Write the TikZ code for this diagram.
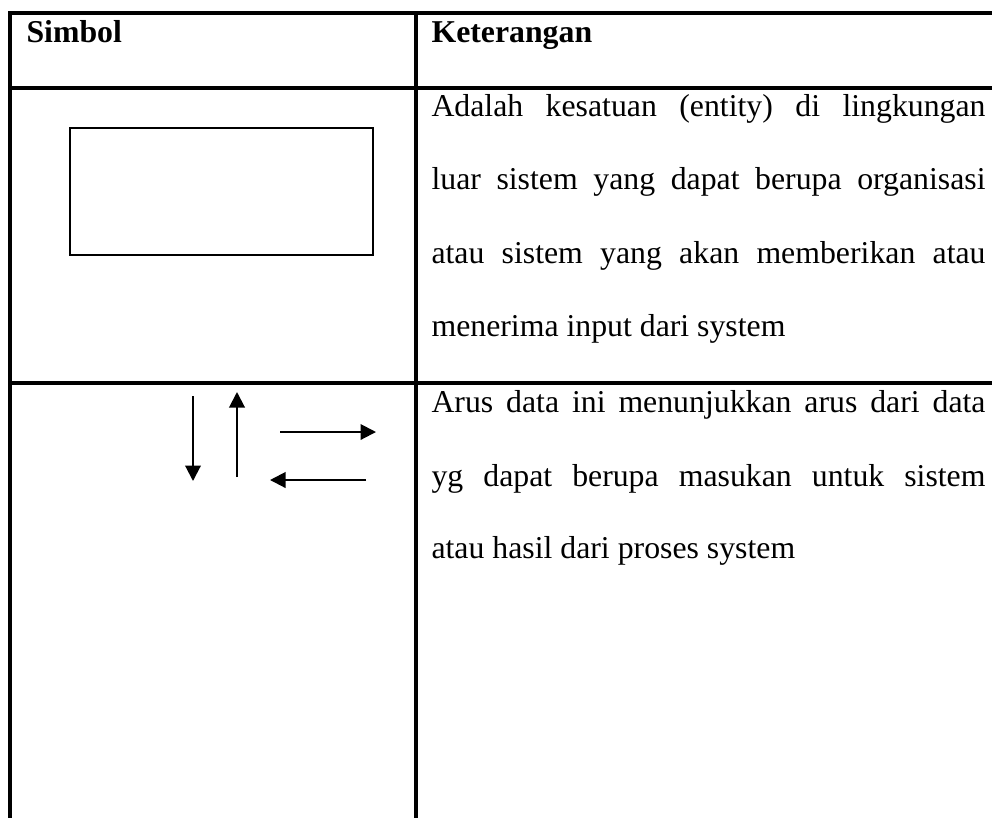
\documentclass[tikz,border=0pt]{standalone}
\usepackage{fontspec}
\setmainfont{Liberation Serif}
\usetikzlibrary{positioning, arrows.meta, calc}
\newcommand{\jline}[1]{\makebox[214.4pt][s]{#1}}
\tikzset{
    rule/.style={line width=1.2pt},
    txt/.style={anchor=base west, inner sep=0pt, font=\fontsize{12.3}{14}\selectfont},
    flow/.style={line width=0.8pt, -{Triangle[length=6pt, width=6pt]}}
}

\begin{document}
\begin{tikzpicture}[x=0.387pt, y=-0.387pt]
            \useasboundingbox (0,0) rectangle (992,818);
            \draw[rule] (992,13) -- (10,13) -- (10,818);
            \draw[rule] (416,13) -- (416,818);
            \foreach \y in {88,383}{
                \draw[rule] (10,\y) -- (992,\y);
            }
            \node[txt, font=\fontsize{12.3}{14}\selectfont\bfseries] (simbol) at (26,42) {Simbol};
            \node[txt, font=\fontsize{12.3}{14}\selectfont\bfseries] (ket) at (431,42) {Keterangan};
            \node[draw, line width=0.6pt, minimum width=117.3pt, minimum height=49.1pt, inner sep=0pt] (entity) at (221.5,191.5) {};
            \node[txt] (e1) at (431,116) {\jline{Adalah kesatuan (entity) di lingkungan}};
            \node[txt] (e2) at (431,189.5) {\jline{luar sistem yang dapat berupa organisasi}};
            \node[txt] (e3) at (431,263) {\jline{atau sistem yang akan memberikan atau}};
            \node[txt] (e4) at (431,336) {menerima input dari system};
            \coordinate (downA) at (193,396);
            \coordinate (downB) at (193,481);
            \coordinate (upA) at (237,477);
            \coordinate (upB) at (237,392);
            \coordinate (rightA) at (280,432);
            \coordinate (rightB) at (376,432);
            \coordinate (leftA) at (366,480);
            \coordinate (leftB) at (270,480);
            \draw[flow] (downA) -- (downB);
            \draw[flow] (upA) -- (upB);
            \draw[flow] (rightA) -- (rightB);
            \draw[flow] (leftA) -- (leftB);
            \node[txt] (a1) at (431,412) {\jline{Arus data ini menunjukkan arus dari data}};
            \node[txt] (a2) at (431,486) {\jline{yg dapat berupa masukan untuk sistem}};
            \node[txt] (a3) at (431,558) {atau hasil dari proses system};
        \end{tikzpicture}
\end{document}
